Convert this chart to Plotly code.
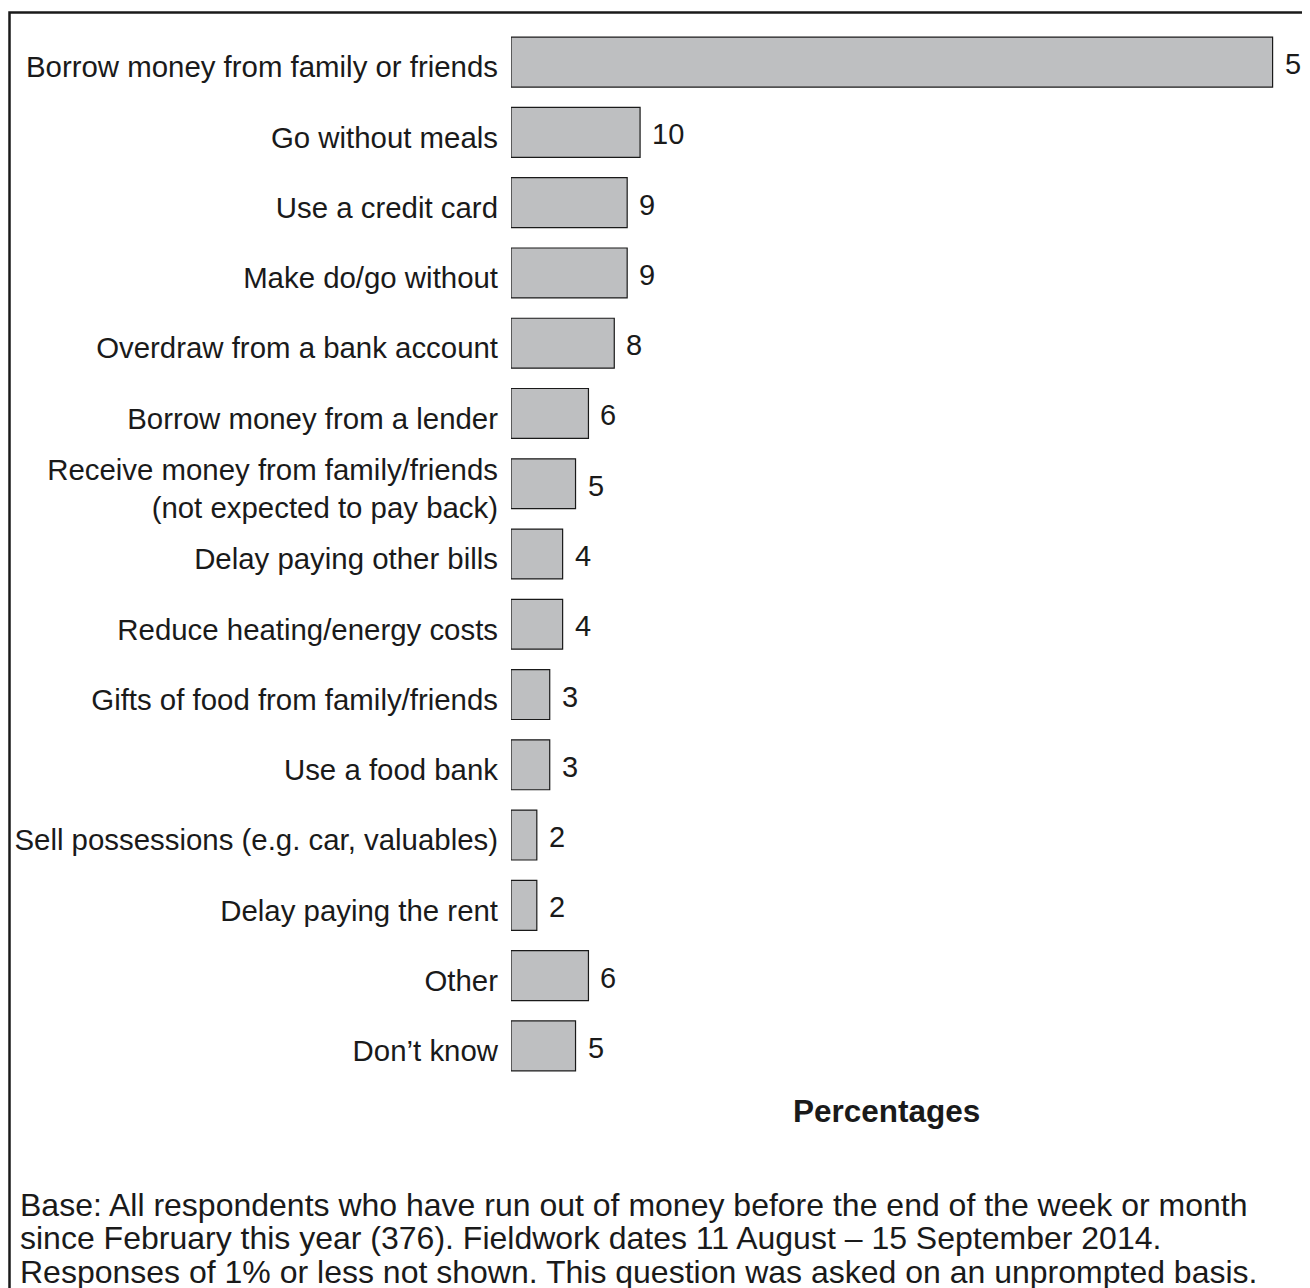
import plotly.graph_objects as go

categories = [
    "Borrow money from family or friends",
    "Go without meals",
    "Use a credit card",
    "Make do/go without",
    "Overdraw from a bank account",
    "Borrow money from a lender",
    "Receive money from family/friends<br>(not expected to pay back)",
    "Delay paying other bills",
    "Reduce heating/energy costs",
    "Gifts of food from family/friends",
    "Use a food bank",
    "Sell possessions (e.g. car, valuables)",
    "Delay paying the rent",
    "Other",
    "Don\u2019t know",
]
values = [59, 10, 9, 9, 8, 6, 5, 4, 4, 3, 3, 2, 2, 6, 5]

footnote = [
    "Base: All respondents who have run out of money before the end of the week or month",
    "since February this year (376). Fieldwork dates 11 August \u2013 15 September 2014.",
    "Responses of 1% or less not shown. This question was asked on an unprompted basis.",
]

# the page body has an 8px margin, so the figure starts 8px in from the top-left corner
OFF = 8
W, H = 1310 - OFF, 1288 - OFF
L, R, T, B = 511 - OFF, 9, 27.4 - OFF, 206.8
PW, PH = W - L - R, H - T - B
FONT = "Liberation Sans, Arial, sans-serif"
INK = "#1a1a1a"


def px_x(p):
    return (p - OFF - L) / PW


def px_y(p):
    return (H - B - (p - OFF)) / PH


fig = go.Figure(go.Bar(
    x=values, y=categories, orientation="h", width=0.71,
    marker=dict(color="#bebfc1", line=dict(color=INK, width=1.2)),
    hoverinfo="x+y",
))

for c, v in zip(categories, values):
    fig.add_annotation(x=v, y=c, text=str(v), showarrow=False, xanchor="left",
                       xshift=10, yshift=-2, font=dict(size=29, color=INK, family=FONT))

fig.add_annotation(xref="paper", yref="paper", x=px_x(886), y=px_y(1111),
                   xanchor="center", yanchor="middle",
                   text="<b>Percentages</b>", showarrow=False,
                   font=dict(size=31.5, color=INK, family=FONT))

for i, line in enumerate(footnote):
    fig.add_annotation(xref="paper", yref="paper", x=px_x(18), y=px_y(1205 + 33.5 * i),
                       xanchor="left", yanchor="middle", text=line, showarrow=False,
                       font=dict(size=32, color=INK, family=FONT))

# frame around the whole figure (left edge kept just inside the page margin)
fig.add_shape(type="rect", xref="paper", yref="paper",
              x0=px_x(OFF + 1.5), x1=px_x(1340), y0=px_y(1330), y1=px_y(13),
              line=dict(color=INK, width=2.5), layer="above")

fig.update_xaxes(range=[0, 61.2], visible=False, fixedrange=True, automargin=False)
fig.update_yaxes(categoryorder="array", categoryarray=categories, autorange="reversed",
                 showline=False, showgrid=False, zeroline=False, ticks="",
                 ticklabelstandoff=12, ticklabelshift=-5, automargin=False,
                 tickfont=dict(size=29.4, color=INK, family=FONT))
fig.update_layout(width=W, height=H, margin=dict(l=L, r=R, t=T, b=B),
                  plot_bgcolor="white", paper_bgcolor="white",
                  showlegend=False, font=dict(family=FONT, color=INK))

fig.write_html("out.html")
